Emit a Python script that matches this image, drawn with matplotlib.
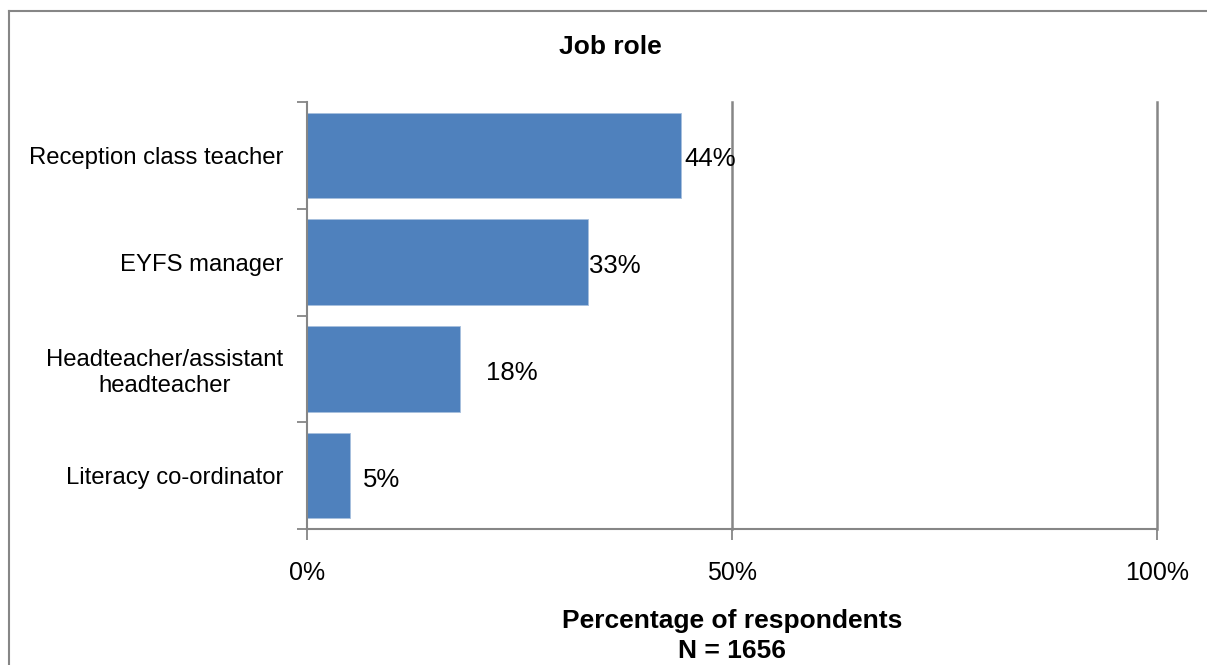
import matplotlib.pyplot as plt
from matplotlib.lines import Line2D

# ── Data ────────────────────────────────────────────────────────────────────
roles = ["Reception class teacher", "EYFS manager",
         "Headteacher/assistant\nheadteacher", "Literacy co-ordinator"]
shares = [0.44, 0.33, 0.18, 0.05]
share_labels = ["44%", "33%", "18%", "5%"]
x_ticks = [0, 0.5, 1.0]
x_ticklabels = ["0%", "50%", "100%"]

# Excel placed the data labels at slightly uneven distances from the bar ends
label_pad_px = [3, 1, 26, 13]

bar_color = "#4F81BD"
line_gray = "#868686"
plt.rcParams["font.family"] = ["Liberation Sans", "DejaVu Sans"]

W, H = 1207, 665
fig = plt.figure(figsize=(W / 100, H / 100), dpi=100)
ax = fig.add_axes([307 / W, 1 - 529 / H, (1157 - 307) / W, (529 - 102) / H])

ys = range(len(roles))
ax.barh(ys, shares, height=0.8, color=bar_color, edgecolor="#A7BFDE", linewidth=0.6)
ax.set_ylim(len(roles) - 0.5, -0.5)
ax.set_xlim(0, 1)

for y, v, lab, pad in zip(ys, shares, share_labels, label_pad_px):
    ax.annotate(lab, (v, y), xytext=(pad, -4), textcoords="offset pixels",
                ha="left", va="center", fontsize=18.5, color="black")

# category axis: tick marks between categories, labels centred on bars
ax.set_yticks([i - 0.5 for i in range(len(roles) + 1)])
ax.set_yticklabels([])
ax.set_yticks(list(ys), minor=True)
ax.set_yticklabels(roles, minor=True, fontsize=17.2, ha="right", multialignment="center")
ax.tick_params(axis="y", which="major", length=7, width=1.3, color=line_gray, direction="out")
ax.tick_params(axis="y", which="minor", length=0, pad=17)

ax.set_xticks(x_ticks)
ax.set_xticklabels(x_ticklabels, fontsize=18)
ax.tick_params(axis="x", length=8, width=1.3, color=line_gray, direction="out", pad=15)

for side in ["top", "right"]:
    ax.spines[side].set_visible(False)
for side in ["left", "bottom"]:
    ax.spines[side].set_color(line_gray)
    ax.spines[side].set_linewidth(1.5)

for xv in x_ticks[1:]:
    ax.axvline(xv, color=line_gray, linewidth=1.8, zorder=0, clip_on=False)

fig.text(610 / W, 1 - 47 / H, "Job role", ha="center", va="center",
         fontsize=19, fontweight="bold")
fig.text(732 / W, 1 - 621 / H, "Percentage of respondents", ha="center", va="center",
         fontsize=19, fontweight="bold")
fig.text(732 / W, 1 - 651 / H, "N = 1656", ha="center", va="center",
         fontsize=19, fontweight="bold")

# chart-area border (only top and left edges fall inside the image)
fig.add_artist(Line2D([9 / W, 1], [1 - 11 / H, 1 - 11 / H], transform=fig.transFigure,
                      color=line_gray, linewidth=1.5))
fig.add_artist(Line2D([9 / W, 9 / W], [1 - 11 / H, 0], transform=fig.transFigure,
                      color=line_gray, linewidth=1.5))

fig.savefig("out.png", dpi=100)
